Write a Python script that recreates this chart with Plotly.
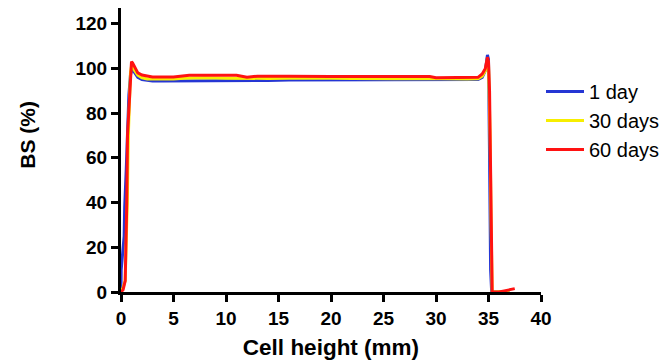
import plotly.graph_objects as go

# Cell height (mm)
x_1d = [0.0, 0.02, 0.3, 0.35, 0.5, 0.6, 0.75, 0.9, 1.0, 1.1, 1.3, 1.6, 2.0, 2.5, 3.0, 4.0, 5.0, 6.0, 8.0, 10.0, 12.0, 14.0, 16.0, 18.0, 20.0, 22.0, 24.0, 26.0, 28.0, 30.0, 32.0, 33.0, 34.0, 34.4, 34.7, 34.9, 35.0, 35.1, 35.2, 35.3, 35.4, 36.0, 37.0]
bs_1d = [0.0, 10.0, 25.0, 38.0, 55.0, 70.0, 88.0, 97.0, 99.0, 99.5, 98.0, 96.0, 95.0, 94.5, 94.3, 94.3, 94.3, 94.5, 94.6, 94.6, 94.5, 94.6, 94.8, 94.8, 94.9, 95.0, 94.8, 95.0, 95.0, 94.9, 95.0, 94.8, 95.0, 96.0, 99.0, 106.0, 104.0, 60.0, 10.0, 0.0, 0.0, 0.0, 0.0]

x_30d = [0.0, 0.2, 0.4, 0.5, 0.6, 0.7, 0.8, 0.9, 1.0, 1.1, 1.3, 1.6, 2.0, 2.5, 3.0, 4.0, 5.0, 6.0, 8.0, 10.0, 12.0, 14.0, 16.0, 18.0, 20.0, 22.0, 24.0, 26.0, 28.0, 30.0, 32.0, 33.0, 34.0, 34.4, 34.7, 34.9, 35.0, 35.15, 35.25, 35.35, 35.45, 36.0, 37.0]
bs_30d = [0.0, 2.0, 5.0, 22.0, 40.0, 70.0, 88.0, 98.0, 101.0, 101.5, 99.0, 97.0, 95.8, 95.3, 95.2, 95.2, 95.3, 95.6, 95.8, 95.6, 95.4, 95.5, 95.6, 95.7, 95.6, 95.5, 95.3, 95.4, 95.5, 95.3, 95.4, 95.2, 95.4, 96.5, 99.0, 104.0, 102.0, 70.0, 30.0, 0.0, 0.0, 0.0, 0.3]

x_60d = [0.0, 0.2, 0.4, 0.5, 0.55, 0.62, 0.8, 0.9, 1.0, 1.1, 1.3, 1.6, 2.0, 2.5, 3.0, 4.0, 5.0, 6.5, 8.0, 11.0, 12.0, 13.0, 16.0, 18.0, 20.0, 22.0, 24.0, 26.0, 29.4, 30.0, 32.0, 33.0, 34.0, 34.4, 34.7, 34.9, 35.0, 35.1, 35.2, 35.3, 35.35, 35.5, 36.0, 36.5, 37.0, 37.5]
bs_60d = [0.0, 1.0, 5.0, 22.0, 40.0, 70.0, 88.0, 100.0, 103.0, 102.5, 100.5, 98.0, 97.0, 96.5, 96.2, 96.1, 96.1, 96.9, 96.9, 96.9, 96.0, 96.5, 96.5, 96.6, 96.4, 96.4, 96.4, 96.4, 96.4, 95.8, 95.8, 95.8, 96.0, 97.5, 100.0, 105.0, 103.0, 90.0, 50.0, 5.0, 0.0, 0.0, 0.0, 0.5, 1.0, 1.5]

x_ticks = [0, 5, 10, 15, 20, 25, 30, 35, 40]
y_ticks = [0, 20, 40, 60, 80, 100, 120]

series = [
    ("1 day", x_1d, bs_1d, "#2536d4"),
    ("30 days", x_30d, bs_30d, "#f7ee00"),
    ("60 days", x_60d, bs_60d, "#ff1212"),
]

fig = go.Figure()
for name, xs, ys, color in series:
    fig.add_trace(go.Scatter(x=xs, y=ys, mode="lines", name=name,
                             line=dict(color=color, width=3)))

FONT = "Liberation Sans, Arial, sans-serif"
axis_font = dict(family=FONT, size=19, color="black", weight="bold")
fig.update_layout(
    width=669, height=362,
    margin=dict(l=113, r=136, t=0, b=78),
    paper_bgcolor="white", plot_bgcolor="white",
    showlegend=True,
    legend=dict(x=1.0, y=0.775, xanchor="left", yanchor="top",
                font=dict(family=FONT, size=20, color="black"),
                bgcolor="rgba(0,0,0,0)", itemwidth=38),
    font=dict(family=FONT, color="black"),
    annotations=[dict(text="<b>BS (%)</b>", textangle=-90, xref="paper", yref="paper",
                      x=-0.223, y=0.555, xanchor="center", yanchor="middle", showarrow=False,
                      font=dict(family=FONT, size=21, color="black"))],
)
fig.update_xaxes(
    range=[0, 40], tickvals=x_ticks, ticktext=[str(v) for v in x_ticks],
    showgrid=False, zeroline=False, showline=True, linecolor="black", linewidth=3,
    ticks="outside", ticklen=7, tickwidth=2.5, tickcolor="black",
    tickfont=axis_font, automargin=False,
    title=dict(text="<b>Cell height (mm)</b>", font=dict(family=FONT, size=22.5, color="black"), standoff=12),
)
fig.update_yaxes(
    range=[0, 127], tickvals=y_ticks, ticktext=[str(v) for v in y_ticks],
    showgrid=False, zeroline=False, showline=True, linecolor="black", linewidth=3,
    ticks="outside", ticklen=7, tickwidth=2.5, tickcolor="black",
    tickfont=axis_font, automargin=False,
)

fig.write_html("out.html")
